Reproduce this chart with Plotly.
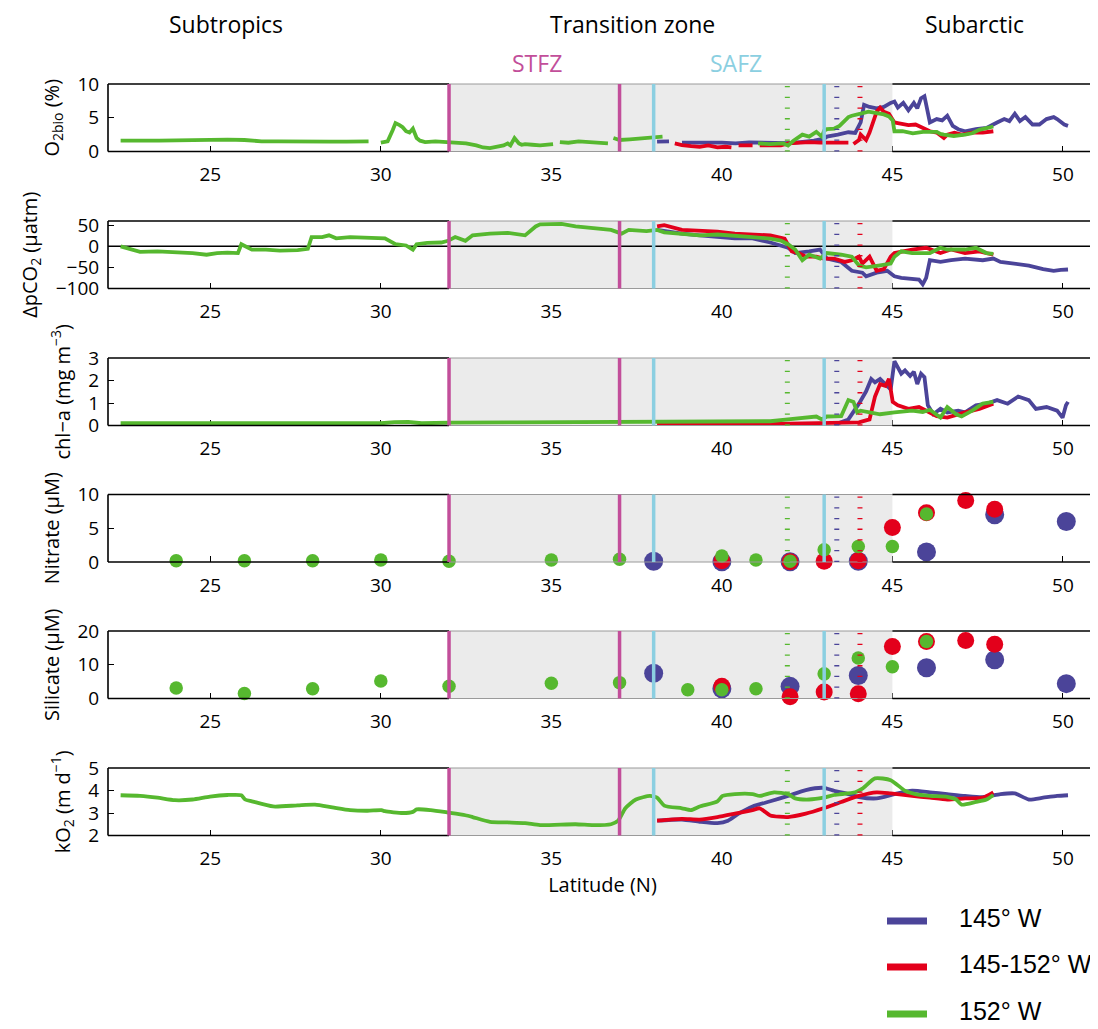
import plotly.graph_objects as go

# ---------------- data ----------------
X_RANGE = [22, 51]
LAT_TICKS = [25, 30, 35, 40, 45, 50]
STFZ_LAT = [32, 37]
SAFZ_LAT = [38, 43]
SHADE_LAT = [32, 45]
FRONT_152W = 41.92
FRONT_145W = 43.37
FRONT_MID = 44.05

SERIES_NAMES = ["145° W", "145-152° W", "152° W"]

# O2bio (%)
O2_145 = [(38.10,1.45),(38.30,1.4),(38.45,1.5),(None,None),(38.83,1.3),(39.2,1.25),(39.6,1.3),(40.0,1.3),
          (40.4,1.2),(40.8,1.35),(41.2,1.3),(41.6,1.2),(41.94,1.25),(42.3,1.4),(42.7,1.6),(43.0,1.9),
          (43.08,2.2),(43.40,2.5),(43.71,2.85),(43.91,2.75),(44.07,4.3),(44.17,6.9),(44.33,6.6),(44.54,6.4),
          (44.75,6.6),(44.95,7.2),(45.06,7.4),(45.16,6.5),(45.32,7.2),(45.47,6.1),(45.63,7.2),(45.73,6.4),
          (45.84,7.9),(45.94,8.2),(46.04,5.9),(46.10,4.3),(46.30,4.8),(46.46,4.6),(46.61,5.3),(46.77,3.8),
          (46.93,3.3),(47.13,3.0),(47.45,3.3),(47.76,3.5),(48.07,4.3),(48.28,4.8),(48.43,4.5),(48.59,5.6),
          (48.74,4.5),(48.90,5.1),(49.11,4.0),(49.31,4.0),(49.52,4.8),(49.73,5.1),(49.83,4.8),(49.94,4.3),
          (50.04,4.0),(50.15,3.8)]
O2_MID = [(38.62,1.2),(38.83,0.95),(39.1,0.8),(39.35,0.7),(39.6,0.9),(39.87,0.6),(40.1,0.7),(40.28,0.6),
          (None,None),(40.49,0.9),(40.9,0.9),(None,None),(41.11,0.9),(41.42,0.95),(41.73,0.9),(41.94,1.2),
          (42.25,1.3),(42.56,1.4),(42.88,1.3),(43.08,1.3),(43.40,1.2),(43.71,1.3),(None,None),(43.86,1.1),
          (44.02,1.7),(44.07,2.5),(44.23,1.7),(44.33,2.8),(44.43,4.3),(44.54,5.9),(44.64,6.5),(44.75,5.9),
          (44.90,5.6),(45.01,4.8),(45.06,4.3),(45.16,4.2),(45.47,3.9),(45.68,4.0),(45.89,3.5),(46.10,3.0),
          (46.30,2.8),(46.51,2.0),(46.61,2.5),(46.82,2.8),(47.03,2.5),(47.34,2.8),(47.65,2.8),(47.96,3.0)]
O2_152 = [(22.37,1.6),(22.9,1.55),(23.5,1.6),(24.0,1.65),(24.5,1.7),(25.0,1.8),(25.5,1.75),(26.0,1.7),
          (26.5,1.5),(27.0,1.5),(27.5,1.45),(28.0,1.45),(28.5,1.45),(29.0,1.45),(29.64,1.5),(None,None),
          (30.0,1.3),(30.2,1.5),(30.35,3.2),(30.43,4.2),(30.55,3.9),(30.64,3.6),(30.74,3.0),(30.84,2.8),
          (30.94,3.4),(31.05,2.0),(31.15,1.6),(31.3,1.4),(31.6,1.5),(31.97,1.4),(32.2,1.3),(32.5,1.2),
          (32.8,0.9),(33.0,0.6),(33.2,0.5),(33.4,0.7),(33.6,0.9),(33.72,1.2),(33.8,0.9),(33.92,2.0),
          (34.05,1.2),(34.13,1.0),(34.23,1.1),(34.44,1.0),(34.67,0.9),(35.05,1.1),(None,None),(35.25,1.4),
          (35.5,1.3),(35.8,1.5),(36.0,1.4),(36.3,1.3),(36.66,1.2),(None,None),(36.82,2.0),(37.0,1.7),
          (37.3,1.8),(37.6,1.9),(38.0,2.0),(38.26,2.2),(None,None),(41.06,1.2),(41.4,1.1),(41.8,1.2),
          (41.94,0.9),(42.1,1.6),(42.36,2.5),(42.56,2.2),(42.77,2.9),(42.93,2.2),(43.0,3.1),(43.08,3.3),
          (43.3,3.4),(43.45,3.8),(43.71,5.1),(43.81,5.3),(43.97,5.4),(44.07,5.6),(44.3,5.9),(44.5,5.7),
          (44.75,5.5),(44.9,5.2),(45.01,4.6),(45.06,3.0),(45.3,3.0),(45.6,2.7),(45.9,2.9),(46.3,2.9),
          (46.41,2.6),(46.51,2.5),(46.8,2.3),(47.13,2.5),(47.34,2.7),(47.55,3.2),(47.96,3.7)]

# delta pCO2 (uatm)
PCO2_145 = [(38.10,39),(38.83,30),(39.35,26),(39.87,22),(40.38,19),(40.90,19),(41.42,9),(41.94,-3.4),
            (42.15,-16),(42.56,-12),(42.88,-7.6),(43.08,-29),(43.50,-37),(43.81,-58),(44.12,-62.5),
            (44.23,-71),(44.54,-62.5),(44.85,-58),(45.06,-71),(45.26,-75),(45.58,-77),(45.78,-79),
            (45.89,-90),(45.99,-75),(46.10,-33),(46.41,-37),(46.72,-33),(47.13,-29),(47.65,-33),
            (47.96,-29),(48.17,-37),(48.59,-41),(49.0,-45.6),(49.42,-54),(49.73,-58),(49.94,-56),(50.15,-55)]
PCO2_MID = [(38.10,47),(38.31,50),(38.83,39),(39.35,37),(39.87,35),(40.38,30),(40.90,28),(41.42,26),
            (41.84,18),(42.05,-12),(42.25,-16),(42.46,-24.5),(42.77,-24.5),(42.98,-29),(43.29,-29),
            (43.60,-37),(43.81,-33),(44.02,-24.5),(44.12,-41),(44.33,-24.5),(44.54,-58),(44.75,-54),
            (44.95,-24.5),(45.06,-16),(45.58,-7.6),(45.99,-3.4),(46.41,-16),(46.72,-7.6),(47.13,-16),
            (47.55,-12),(47.96,-20)]
PCO2_152 = [(22.37,0),(22.73,-7.5),(22.94,-13),(23.45,-12),(23.96,-14),(24.48,-16),(24.89,-20),
            (25.20,-16),(25.50,-15),(25.81,-16),(25.91,5),(26.02,0),(26.22,-8),(26.63,-8),(27.04,-10),
            (27.56,-9),(27.86,-6),(27.97,22),(28.28,22),(28.48,26),(28.69,19),(29.10,22),(29.61,20),
            (30.12,19),(30.43,5),(30.74,2),(30.94,-8),(31.05,5),(31.36,8),(31.77,9),(31.97,13),
            (32.18,22),(32.48,13),(32.69,26),(33.20,30),(33.72,32),(34.23,26),(34.54,47),(34.67,52),
            (35.30,53),(35.71,47),(36.23,43),(36.75,39),(37.06,30),(37.27,39),(37.79,36),(38.10,39),
            (38.31,33),(38.83,30),(39.35,26),(39.87,28),(40.38,26),(40.90,22),(41.42,18),(41.73,13.5),
            (41.94,5),(42.15,-7.6),(42.36,-33),(42.56,-20),(42.88,-29),(43.08,-16),(43.50,-20),
            (43.81,-24.5),(44.02,-45.6),(44.23,-50),(44.64,-45),(44.95,-41),(45.06,-24.5),(45.26,-12),
            (45.58,-16),(46.10,-16),(46.41,-3.4),(46.61,-7.6),(47.13,-7.6),(47.45,-3.4),(47.76,-16),
            (47.96,-18)]

# chl-a (mg m-3)
CHL_145 = [(43.29,0.03),(43.71,0.27),(44.02,0.97),(44.23,1.52),(44.38,2.07),(44.49,1.92),(44.64,2.07),
           (44.80,1.84),(44.95,1.6),(45.06,2.86),(45.16,2.54),(45.26,2.3),(45.37,2.45),(45.52,2.2),
           (45.63,2.39),(45.73,1.84),(45.84,2.3),(45.94,2.15),(46.04,0.9),(46.20,0.5),(46.41,0.74),
           (46.61,0.58),(46.93,0.66),(47.13,0.58),(47.45,0.9),(47.76,0.97),(48.07,1.13),(48.38,0.97),
           (48.69,1.29),(49.0,1.13),(49.21,0.74),(49.52,0.82),(49.83,0.66),(49.99,0.35),(50.09,0.9),
           (50.15,1.05)]
CHL_MID = [(38.10,0.03),(39.0,0.03),(40.0,0.04),(41.0,0.05),(42.0,0.08),(42.88,0.1),(43.50,0.14),
           (44.02,0.14),(44.33,0.27),(44.49,1.29),(44.64,1.84),(44.80,1.76),(44.90,2.07),(45.01,1.05),
           (45.16,0.9),(45.47,0.74),(45.78,0.82),(46.10,0.58),(46.30,0.42),(46.61,0.35),(46.93,0.5),
           (47.13,0.58),(47.55,0.74),(47.96,0.97)]
CHL_152 = [(22.37,0.1),(24.0,0.1),(26.0,0.11),(28.0,0.1),(30.0,0.1),(30.4,0.15),(30.8,0.16),(31.2,0.1),
           (32.0,0.13),(34.0,0.14),(36.0,0.15),(38.0,0.15),(40.0,0.15),(41.42,0.19),(41.94,0.27),
           (42.36,0.35),(42.77,0.4),(42.93,0.27),(43.08,0.4),(43.50,0.42),(43.71,1.13),(43.86,1.05),
           (43.97,0.58),(44.07,0.66),(44.33,0.58),(44.64,0.5),(45.06,0.58),(45.58,0.66),(45.89,0.6),
           (46.10,0.7),(46.41,0.35),(46.61,0.82),(46.87,0.5),(47.03,0.4),(47.34,0.66),(47.65,0.97),
           (47.96,1.05)]

# Nitrate (uM)
NO3_LAT_145 = [38, 40, 42, 44, 46, 48, 50.1]
NO3_145 = [0.1, 0.05, 0.05, 0.1, 1.5, 7.0, 6.0]
NO3_LAT_MID = [40, 42, 43, 44, 45, 46, 47.15, 48]
NO3_MID = [0.2, 0.05, 0.1, 0.2, 5.1, 7.3, 9.1, 7.8]
NO3_LAT_152 = [24, 26, 28, 30, 32, 35, 37, 40, 41, 42, 43, 44, 45, 46]
NO3_152 = [0.2, 0.2, 0.2, 0.3, 0.1, 0.3, 0.4, 0.9, 0.3, 0.1, 1.8, 2.3, 2.3, 7.1]

# Silicate (uM)
SI_LAT_145 = [38, 40, 42, 44, 46, 48, 50.1]
SI_145 = [7.5, 2.9, 3.6, 6.8, 9.1, 11.5, 4.4]
SI_LAT_MID = [40, 42, 43, 44, 45, 46, 47.15, 48]
SI_MID = [3.6, 0.5, 1.9, 1.4, 15.4, 16.9, 17.2, 16.1]
SI_LAT_152 = [24, 26, 28, 30, 32, 35, 37, 39, 40, 41, 43, 44, 45, 46]
SI_152 = [3.1, 1.5, 2.9, 5.2, 3.6, 4.5, 4.7, 2.6, 2.6, 2.9, 7.3, 12.0, 9.4, 16.9]

# kO2 (m d-1)
KO2_145 = [(38.10,2.66),(38.83,2.71),(39.35,2.61),(39.87,2.55),(40.18,2.66),(40.49,2.97),(40.90,3.29),
           (41.42,3.52),(41.94,3.76),(42.46,4.02),(42.98,4.12),(43.29,3.99),(43.71,3.84),(44.02,3.71),
           (44.54,3.65),(45.06,3.84),(45.58,3.99),(46.10,3.92),(46.61,3.84),(47.13,3.76),(47.65,3.71),
           (48.17,3.84),(48.59,3.87),(49.0,3.6),(49.42,3.68),(49.83,3.76),(50.15,3.79)]
KO2_MID = [(38.10,2.66),(38.83,2.74),(39.35,2.71),(39.87,2.82),(40.38,2.97),(40.90,3.13),(41.11,3.21),
           (41.42,2.89),(41.94,2.82),(42.46,2.97),(42.98,3.21),(43.50,3.49),(44.02,3.76),(44.54,3.92),
           (44.95,3.87),(45.58,3.76),(46.10,3.68),(46.61,3.6),(47.13,3.65),(47.65,3.68),(47.96,3.92)]
KO2_152 = [(22.37,3.79),(22.94,3.76),(23.45,3.68),(23.96,3.57),(24.48,3.6),(24.99,3.73),(25.50,3.8),
           (25.91,3.79),(26.02,3.6),(26.22,3.52),(26.84,3.29),(27.56,3.34),(28.07,3.37),(28.58,3.25),
           (29.10,3.13),(29.61,3.1),(30.02,3.13),(30.12,3.08),(30.64,3.0),(30.94,3.05),(31.05,3.16),
           (31.46,3.13),(31.97,3.02),(32.48,2.9),(32.69,2.82),(33.20,2.61),(33.72,2.58),(34.23,2.55),
           (34.67,2.46),(35.71,2.5),(36.23,2.46),(36.75,2.5),(36.96,2.66),(37.17,3.21),(37.48,3.6),
           (37.89,3.76),(38.10,3.68),(38.31,3.33),(38.83,3.21),(39.09,3.13),(39.35,3.29),(39.87,3.52),
           (40.02,3.76),(40.38,3.84),(40.90,3.84),(41.11,3.76),(41.53,3.92),(41.94,3.84),(42.15,3.65),
           (42.56,3.6),(42.98,3.68),(43.29,3.8),(43.91,3.92),(44.12,4.08),(44.49,4.54),(44.95,4.46),
           (45.37,3.99),(45.68,3.84),(46.10,3.76),(46.61,3.72),(46.87,3.6),(47.03,3.37),(47.45,3.49),
           (47.76,3.6),(47.96,3.8)]

# ---------------- style ----------------
BLUE = "#4B4499"
RED = "#E3001B"
GREEN = "#56B82F"
MAGENTA = "#C24E9A"
LIGHTBLUE = "#8BCFE1"
SHADE = "#EBEBEB"
EDGE_GRAY = "#9A9A9A"
COLORS = [BLUE, RED, GREEN]

OFF = 8                     # page margin of the html body
W, H = 1098 - OFF, 1029 - OFF
ML, MR = 108 - OFF, 1
FONT = "Open Sans"
TICK_SIZE = 19
TITLE_SIZE = 20

# panel pixel extents in the screenshot (top, bottom)
PANEL_PX = [(84, 151.5), (221, 288.5), (358, 425.5), (494.5, 562), (631, 698.5), (768, 835.5)]

def unzip(pairs):
    return [p[0] for p in pairs], [p[1] for p in pairs]

def py(pix):
    return 1 - (pix - OFF) / H

def px(pix):
    return (pix - OFF - ML) / (W - ML - MR)

panels = [
    dict(title="O<sub>2bio</sub> (%)", yrange=[0, 10], yticks=[0, 5, 10], kind="line",
         data=[O2_145, O2_MID, O2_152]),
    dict(title="ΔpCO<sub>2</sub> (µatm)", yrange=[-100, 60], yticks=[-100, -50, 0, 50], kind="line",
         data=[PCO2_145, PCO2_MID, PCO2_152], zero=True),
    dict(title="chl−a (mg m<sup>−3</sup>)", yrange=[0, 3], yticks=[0, 1, 2, 3], kind="line",
         data=[CHL_145, CHL_MID, CHL_152]),
    dict(title="Nitrate (µM)", yrange=[0, 10], yticks=[0, 5, 10], kind="dots",
         data=[(NO3_LAT_145, NO3_145), (NO3_LAT_MID, NO3_MID), (NO3_LAT_152, NO3_152)]),
    dict(title="Silicate (µM)", yrange=[0, 20], yticks=[0, 10, 20], kind="dots",
         data=[(SI_LAT_145, SI_145), (SI_LAT_MID, SI_MID), (SI_LAT_152, SI_152)]),
    dict(title="kO<sub>2</sub> (m d<sup>−1</sup>)", yrange=[2, 5], yticks=[2, 3, 4, 5], kind="smooth",
         data=[KO2_145, KO2_MID, KO2_152]),
]
DOT_SIZES = [19, 17, 13.5]

fig = go.Figure()
layout = dict(template="none", width=W, height=H, margin=dict(l=ML, r=MR, t=0, b=0, autoexpand=False),
              paper_bgcolor="white", plot_bgcolor="white", showlegend=False,
              font=dict(family=FONT, size=TICK_SIZE, color="black"))
shapes = []
annotations = []

for i, p in enumerate(panels, start=1):
    sx = "" if i == 1 else str(i)
    xa, ya = "x" + sx, "y" + sx
    top, bot = PANEL_PX[i - 1]
    lo, hi = p["yrange"]

    # shaded transition zone (a filled region, drawn above the axis ticks)
    fig.add_trace(go.Scatter(x=[SHADE_LAT[0], SHADE_LAT[1], SHADE_LAT[1], SHADE_LAT[0], SHADE_LAT[0]],
                             y=[lo, lo, hi, hi, lo], fill="toself", fillcolor=SHADE, mode="lines",
                             line=dict(width=0, color=SHADE), hoverinfo="skip", xaxis=xa, yaxis=ya))
    if p.get("zero"):
        fig.add_trace(go.Scatter(x=X_RANGE, y=[0, 0], mode="lines", line=dict(color="black", width=1.6),
                                 hoverinfo="skip", xaxis=xa, yaxis=ya))

    for k, series in enumerate(p["data"]):
        if p["kind"] == "dots":
            xs, ys = series
            fig.add_trace(go.Scatter(x=xs, y=ys, mode="markers", name=SERIES_NAMES[k],
                                     marker=dict(color=COLORS[k], size=DOT_SIZES[k], line=dict(width=0)),
                                     cliponaxis=False, xaxis=xa, yaxis=ya))
        else:
            xs, ys = unzip(series)
            line = dict(color=COLORS[k], width=3.8)
            if p["kind"] == "smooth":
                line.update(shape="spline", smoothing=0.6)
            fig.add_trace(go.Scatter(x=xs, y=ys, mode="lines", name=SERIES_NAMES[k], line=line,
                                     connectgaps=False, xaxis=xa, yaxis=ya))

    axis_common = dict(showline=True, linecolor="rgba(0,0,0,0)", linewidth=1, mirror=True,
                       ticks="inside", ticklen=6, tickwidth=1.3, tickcolor="black",
                       showgrid=False, zeroline=False, layer="below traces", automargin=False,
                       tickfont=dict(family=FONT, size=TICK_SIZE, color="black"))
    layout["xaxis" + sx] = dict(axis_common, domain=[0, 1], range=X_RANGE, tickvals=LAT_TICKS,
                                anchor=ya, ticklabelstandoff=6)
    layout["yaxis" + sx] = dict(axis_common, domain=[py(bot), py(top)], range=[lo, hi],
                                tickvals=p["yticks"], anchor=xa, ticklabelstandoff=4,
                                title=dict(text=p["title"], font=dict(family=FONT, size=TITLE_SIZE),
                                           standoff=12))
    if i == len(panels):
        layout["xaxis" + sx]["title"] = dict(text="Latitude (N)", font=dict(family=FONT, size=TITLE_SIZE),
                                             standoff=6)

    # box border: black outside the transition zone, grey edge across it
    for yv in (0, 1):
        for x0, x1, col, wd in [(X_RANGE[0], SHADE_LAT[0], "black", 1.6),
                                (SHADE_LAT[0], SHADE_LAT[1], EDGE_GRAY, 1.0),
                                (SHADE_LAT[1], X_RANGE[1], "black", 1.6)]:
            shapes.append(dict(type="line", xref=xa, yref=ya + " domain", x0=x0, x1=x1, y0=yv, y1=yv,
                               line=dict(color=col, width=wd), layer="above"))
    for xv in (0, 1):
        shapes.append(dict(type="line", xref=xa + " domain", yref=ya + " domain", x0=xv, x1=xv, y0=0, y1=1,
                           line=dict(color="black", width=1.6), layer="above"))

    # front markers
    for lat, col in [(FRONT_152W, GREEN), (FRONT_145W, BLUE), (FRONT_MID, RED)]:
        shapes.append(dict(type="line", xref=xa, yref=ya + " domain", x0=lat, x1=lat, y0=0, y1=1,
                           line=dict(color=col, width=5, dash="1.3px,9.4px"), layer="above"))
    for lat in STFZ_LAT:
        shapes.append(dict(type="line", xref=xa, yref=ya + " domain", x0=lat, x1=lat, y0=0, y1=1,
                           line=dict(color=MAGENTA, width=3.5), layer="above"))
    for lat in SAFZ_LAT:
        shapes.append(dict(type="line", xref=xa, yref=ya + " domain", x0=lat, x1=lat, y0=0, y1=1,
                           line=dict(color=LIGHTBLUE, width=3.5), layer="above"))

# region and front labels
for text, lat, ypix, col in [("Subtropics", 25.46, 24, "black"), ("Transition zone", 37.38, 24, "black"),
                             ("Subarctic", 47.4, 24, "black"), ("STFZ", 34.57, 63, MAGENTA),
                             ("SAFZ", 40.42, 63, LIGHTBLUE)]:
    annotations.append(dict(text=text, x=lat, xref="x", y=py(ypix), yref="paper", showarrow=False,
                            xanchor="center", yanchor="middle",
                            font=dict(family=FONT, size=23, color=col)))

# legend (drawn manually)
for k, ypix in enumerate([921, 967, 1014]):
    shapes.append(dict(type="line", xref="paper", yref="paper", x0=px(887), x1=px(927), y0=py(ypix), y1=py(ypix),
                       line=dict(color=COLORS[k], width=7)))
    annotations.append(dict(text=SERIES_NAMES[k], x=px(957), xref="paper", y=py(ypix - 3), yref="paper",
                            showarrow=False, xanchor="left", yanchor="middle",
                            font=dict(family="Liberation Sans, Arial", size=25, color="black")))

layout["shapes"] = shapes
layout["annotations"] = annotations
fig.update_layout(**layout)
fig.write_html("out.html")
